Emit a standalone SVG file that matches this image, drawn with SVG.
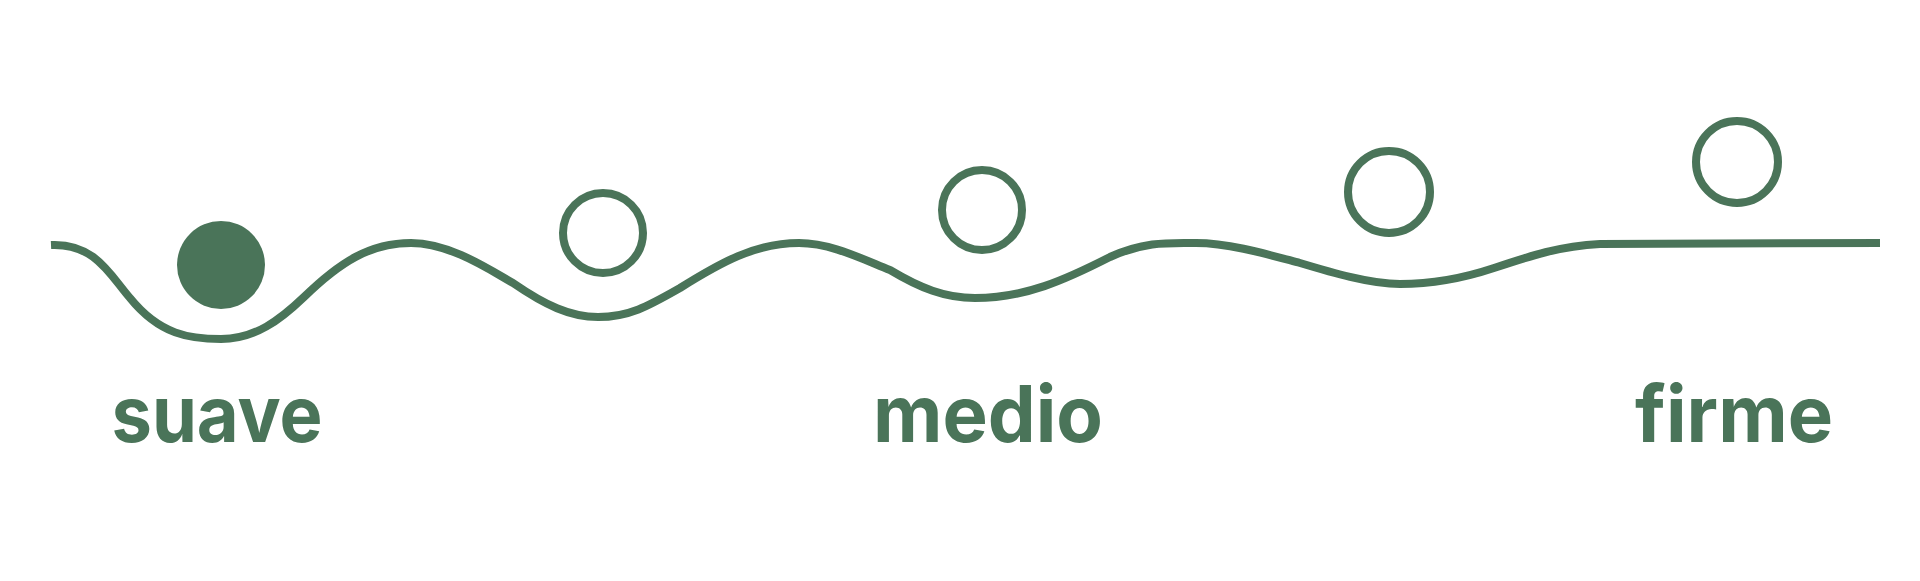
<svg xmlns="http://www.w3.org/2000/svg" width="1920" height="581" viewBox="0 0 1920 581">
<style>
.ring{fill:none;stroke:#4a7459;stroke-width:8}
.ball{fill:#4a7459}
.wave{fill:none;stroke:#4a7459;stroke-width:8;stroke-linecap:butt;stroke-linejoin:round}
.lbl{font-family:Inter,"Open Sans","Liberation Sans",sans-serif;font-weight:700;font-size:78px;fill:#4a7459;text-anchor:middle;font-variant-ligatures:none}
</style>
<rect width="1920" height="581" fill="#ffffff"/>
<g id="wave">
<path class="wave" d="M 51 245 C 95 243, 110 275, 130 298 C 160 335, 190 339, 221 339 C 255 339, 280 320, 304 297 C 340 262, 370 243, 411 243 C 450 243, 490 270, 513 283 C 545 305, 570 317, 598 317 C 630 317, 650 305, 680 288 C 720 263, 755 243, 799 243 C 830 243, 860 258, 890 270 C 920 288, 945 298, 975 298 C 1025 298, 1065 280, 1110 257 C 1145 241, 1170 243, 1196 243 C 1230 243, 1270 255, 1300 263 C 1330 272, 1370 284, 1400 284 C 1440 284, 1470 276, 1494 268 C 1530 256, 1560 246, 1600 244 L 1880 243"/>
</g>
<g id="ball-1"><circle class="ball" cx="221" cy="265" r="44"/></g>
<g id="ball-2"><circle class="ring" cx="603" cy="233" r="40"/></g>
<g id="ball-3"><circle class="ring" cx="982" cy="210" r="40"/></g>
<g id="ball-4"><circle class="ring" cx="1389" cy="192" r="41"/></g>
<g id="ball-5"><circle class="ring" cx="1737" cy="162" r="41"/></g>
<g id="label-suave"><text class="lbl" x="217" y="442" textLength="211" lengthAdjust="spacingAndGlyphs">suave</text></g>
<g id="label-medio"><text class="lbl" x="988" y="442" textLength="230" lengthAdjust="spacingAndGlyphs">medio</text></g>
<g id="label-firme"><text class="lbl" x="1734" y="442" textLength="198" lengthAdjust="spacingAndGlyphs">firme</text></g>
</svg>
